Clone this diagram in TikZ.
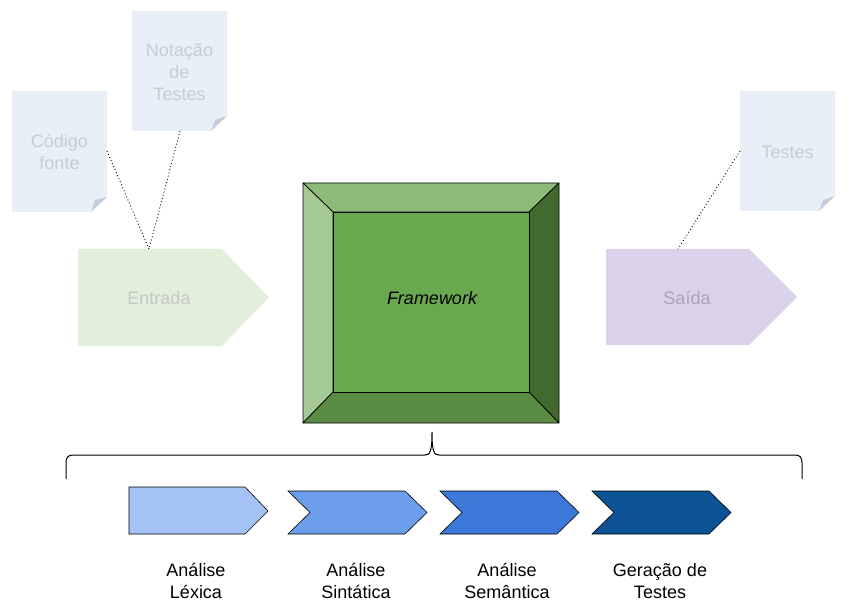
\documentclass[tikz,border=0pt]{standalone}
\usepackage{fontspec}
\setmainfont{Liberation Sans}
\definecolor{docfill}{HTML}{E8EFF7}
\definecolor{docfold}{HTML}{C6CDDF}
\definecolor{doctxt}{HTML}{C6CCD5}
\definecolor{infill}{HTML}{E2EFDA}
\definecolor{intxt}{HTML}{C4C8C2}
\definecolor{outfill}{HTML}{D9D2E9}
\definecolor{outtxt}{HTML}{ABA5B6}
\definecolor{fwtop}{HTML}{8CBB77}
\definecolor{fwleft}{HTML}{A4C994}
\definecolor{fwmid}{HTML}{6AA84F}
\definecolor{fwright}{HTML}{426A2F}
\definecolor{fwbottom}{HTML}{5A8B42}
\definecolor{chevA}{HTML}{A4C2F4}
\definecolor{chevB}{HTML}{6D9EEB}
\definecolor{chevC}{HTML}{3C78D8}
\definecolor{chevD}{HTML}{0B5394}
\tikzset{
  txt/.style={font=\fontsize{18}{22}\selectfont, align=center, inner sep=0pt},
  bevel/.style={draw=black, line width=0.7pt, line join=round},
  chev/.style={draw=black, line width=0.6pt},
  link/.style={line width=0.9pt, dash pattern=on 0.9pt off 2.4pt}
}

\begin{document}
\begin{tikzpicture}[x=1pt,y=-1pt]
  \useasboundingbox (0,0) rectangle (862,612);

  % documents
  \fill[docfill] (12,91) -- (107,91) -- (107,197) -- (91,212) -- (12,212) -- cycle;
  \fill[docfold] (91,212) -- (107,197) -- (95,200) -- cycle;
  \node[txt, text=doctxt] (codigo) at (59.5,152) {Código\\fonte};
  \coordinate (codigo out) at (107,151);

  \fill[docfill] (132,11) -- (227,11) -- (227,116) -- (211,131) -- (132,131) -- cycle;
  \fill[docfold] (211,131) -- (227,116) -- (215,120) -- cycle;
  \node[txt, text=doctxt] (notacao) at (179.5,72) {Notação\\de\\Testes};
  \coordinate (notacao out) at (180,131);

  \fill[docfill] (740,91) -- (835,91) -- (835,196) -- (819,211) -- (740,211) -- cycle;
  \fill[docfold] (819,211) -- (835,196) -- (823,200) -- cycle;
  \node[txt, text=doctxt] (testes) at (787.5,152) {Testes};
  \coordinate (testes in) at (740,151);

  % input and output
  \fill[infill] (78,249) -- (222,249) -- (269,297.5) -- (222,346) -- (78,346) -- cycle;
  \node[txt, text=intxt] (entrada) at (159,298) {Entrada};
  \coordinate (entrada top) at (149,249);

  \fill[outfill] (606,249) -- (749,249) -- (797,297) -- (749,345) -- (606,345) -- cycle;
  \node[txt, text=outtxt] (saida) at (687,298) {Saída};
  \coordinate (saida top) at (678,249);

  \draw[link] (codigo out) -- (entrada top);
  \draw[link] (notacao out) -- (entrada top);
  \draw[link] (testes in) -- (saida top);

  % framework
  \filldraw[bevel, fill=fwtop] (303,183) -- (559,183) -- (529,212) -- (333,212) -- cycle;
  \filldraw[bevel, fill=fwleft] (303,183) -- (333,212) -- (333,392) -- (303,423) -- cycle;
  \filldraw[bevel, fill=fwright] (559,183) -- (559,423) -- (529,392) -- (529,212) -- cycle;
  \filldraw[bevel, fill=fwbottom] (303,423) -- (333,392) -- (529,392) -- (559,423) -- cycle;
  \filldraw[bevel, fill=fwmid] (333,212) rectangle (529,392);
  \node[txt, font=\fontsize{18}{22}\selectfont\itshape] (framework) at (432,298) {Framework};

  % brace
  \draw[line width=1pt] (66,479) -- (66,463) .. controls (66,457) and (68,455) .. (74,455)
    -- (425,455) .. controls (430,455) and (432,452) .. (432,432)
    .. controls (432,452) and (434,455) .. (439,455)
    -- (794,455) .. controls (800,455) and (802,457) .. (802,463) -- (802,479);

  % phases
  \filldraw[chev, fill=chevA] (129,487) -- (245,487) -- (268,511) -- (245,534) -- (129,534) -- cycle;
  \foreach \x/\c in {288/chevB,440/chevC,592/chevD}
    \filldraw[chev, fill=\c] (\x,491) -- ++(117,0) -- ++(22,21.5) -- ++(-22,21.5) -- ++(-117,0) -- ++(22,-21.5) -- cycle;

  \node[txt] (lexica) at (196,581) {Análise\\Léxica};
  \node[txt] (sintatica) at (356,581) {Análise\\Sintática};
  \node[txt] (semantica) at (507,581) {Análise\\Semântica};
  \node[txt] (geracao) at (660,581) {Geração de\\Testes};
\end{tikzpicture}
\end{document}
